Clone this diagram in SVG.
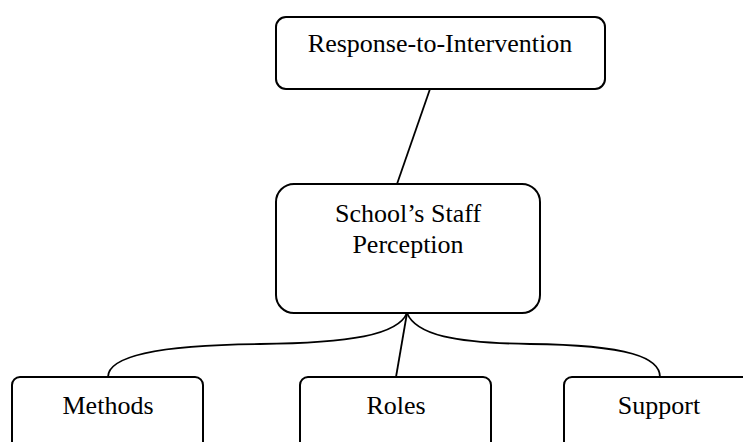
<svg xmlns="http://www.w3.org/2000/svg" width="743" height="442" viewBox="0 0 743 442">
<style>
.box{fill:#fff;stroke:#000;stroke-width:2}
.lbl{font-family:"Liberation Serif","Times New Roman",serif;font-size:26px;fill:#000;text-anchor:middle}
.conn{fill:none;stroke:#000;stroke-width:1.8}
</style>
<rect width="743" height="442" fill="#fff"/>
<g id="connectors">
<path class="conn" d="M430,89 L397,184"/>
<path class="conn" d="M407,313 L396,377"/>
<path class="conn" d="M407,313 C398,335 350,343 260,344 C150,345 108,358 108,377"/>
<path class="conn" d="M407,313 C416,335 455,343 530,344 C630,345 660,358 660,377"/>
</g>
<g id="rti">
<rect class="box" x="276" y="17" width="329" height="72" rx="10"/>
<text class="lbl" x="440" y="52">Response-to-Intervention</text>
</g>
<g id="staff">
<rect class="box" x="276" y="184" width="264" height="129" rx="18"/>
<text class="lbl" x="408" y="222">School’s Staff</text>
<text class="lbl" x="408" y="253">Perception</text>
</g>
<g id="methods">
<rect class="box" x="12" y="377" width="191" height="90" rx="8"/>
<text class="lbl" x="108" y="414">Methods</text>
</g>
<g id="roles">
<rect class="box" x="300" y="377" width="191" height="90" rx="8"/>
<text class="lbl" x="396" y="414">Roles</text>
</g>
<g id="support">
<rect class="box" x="564" y="377" width="190" height="90" rx="8"/>
<text class="lbl" x="659" y="414">Support</text>
</g>
</svg>
